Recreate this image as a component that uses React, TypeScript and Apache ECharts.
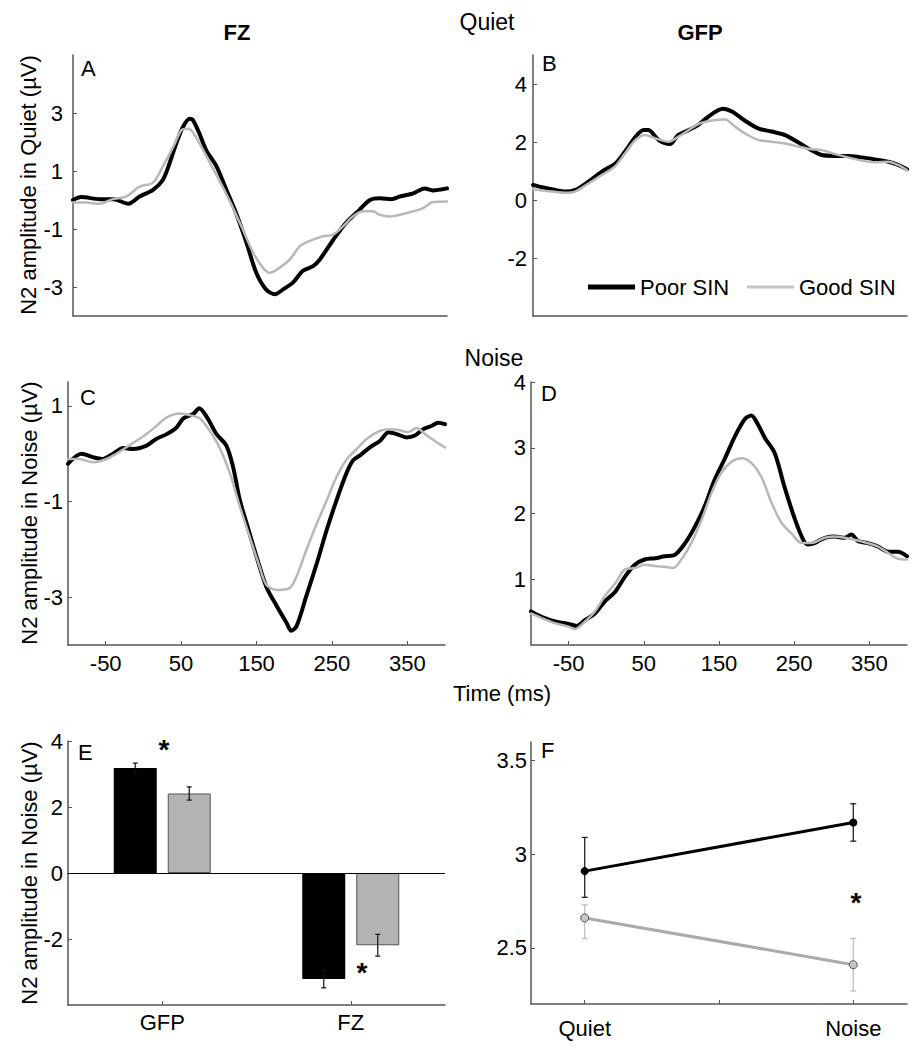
import React, { useEffect, useRef } from 'react';
import * as echarts from 'echarts';

// ---------- DATA ----------
// Panel A: FZ, Quiet (time ms, amplitude µV)
const aPoorT = [-100, -89, -64, -46, -26, -11, 7, 20, 29, 38, 47, 56, 60, 69, 78, 92, 105, 118, 132, 145, 158, 170, 181, 194, 207, 221, 230, 248, 265, 283, 297, 310, 326, 337, 355, 370, 381, 400];
const aPoorV = [0.0, 0.1, 0.03, 0.03, -0.13, 0.12, 0.35, 0.69, 1.26, 1.95, 2.52, 2.8, 2.77, 2.29, 1.72, 1.15, 0.35, -0.45, -1.48, -2.51, -3.08, -3.25, -3.08, -2.85, -2.45, -2.28, -2.05, -1.37, -0.79, -0.34, 0.0, 0.06, 0.03, 0.12, 0.23, 0.4, 0.33, 0.4];
const aGoodT = [-100, -82, -64, -47, -29, -11, 7, 20, 34, 45, 54, 60, 74, 87, 101, 114, 127, 141, 154, 163, 176, 190, 203, 216, 234, 248, 261, 274, 288, 301, 310, 323, 337, 355, 368, 381, 400];
const aGoodV = [-0.09, -0.09, -0.13, 0.03, 0.12, 0.46, 0.6, 1.15, 1.83, 2.41, 2.46, 2.35, 1.72, 1.09, 0.41, -0.28, -1.02, -1.82, -2.34, -2.51, -2.34, -2.05, -1.6, -1.42, -1.25, -1.19, -0.91, -0.57, -0.39, -0.39, -0.51, -0.57, -0.51, -0.39, -0.28, -0.07, -0.05];

// Panel B: GFP, Quiet
const bPoorT = [-100, -88, -75, -57, -44, -26, -8, 10, 23, 37, 48, 54, 68, 83, 94, 108, 121, 134, 148, 154, 166, 183, 201, 219, 237, 255, 272, 286, 303, 321, 339, 357, 375, 388, 400];
const bPoorV = [0.52, 0.44, 0.37, 0.29, 0.34, 0.63, 0.98, 1.26, 1.67, 2.18, 2.41, 2.41, 2.07, 1.93, 2.24, 2.41, 2.59, 2.87, 3.1, 3.15, 3.05, 2.74, 2.47, 2.36, 2.24, 1.98, 1.72, 1.55, 1.52, 1.52, 1.47, 1.4, 1.32, 1.21, 1.06];
const bGoodT = [-100, -75, -57, -44, -26, -8, 10, 23, 37, 50, 63, 81, 94, 108, 121, 139, 157, 170, 183, 201, 219, 237, 255, 272, 286, 303, 321, 339, 357, 375, 388, 400];
const bGoodV = [0.37, 0.29, 0.25, 0.29, 0.57, 0.86, 1.17, 1.61, 2.07, 2.24, 2.13, 2.01, 2.18, 2.41, 2.62, 2.74, 2.78, 2.53, 2.3, 2.07, 2.01, 1.95, 1.84, 1.75, 1.72, 1.59, 1.47, 1.36, 1.3, 1.32, 1.21, 1.03];

// Panel C: FZ, Noise
const cPoorT = [-100, -82, -67, -54, -40, -27, -14, 4, 17, 31, 44, 53, 66, 74, 84, 97, 110, 119, 128, 137, 150, 163, 177, 190, 196, 203, 216, 230, 243, 256, 269, 278, 287, 300, 314, 325, 336, 349, 360, 371, 382, 391, 400];
const cPoorV = [-0.21, 0.0, -0.07, -0.11, 0.0, 0.12, 0.1, 0.17, 0.31, 0.41, 0.55, 0.74, 0.83, 0.95, 0.77, 0.41, 0.17, -0.28, -0.98, -1.46, -2.15, -2.78, -3.19, -3.54, -3.7, -3.61, -2.98, -2.29, -1.6, -0.98, -0.42, -0.14, -0.04, 0.13, 0.27, 0.45, 0.41, 0.34, 0.38, 0.51, 0.58, 0.65, 0.62];
const cGoodT = [-100, -85, -67, -49, -36, -23, -9, 4, 17, 31, 48, 66, 75, 88, 101, 115, 128, 141, 154, 163, 177, 194, 203, 216, 230, 243, 256, 270, 283, 296, 314, 327, 340, 351, 362, 376, 389, 400];
const cGoodV = [-0.11, -0.11, -0.18, -0.11, 0.0, 0.13, 0.27, 0.41, 0.58, 0.76, 0.84, 0.79, 0.74, 0.48, 0.13, -0.42, -1.11, -1.74, -2.36, -2.74, -2.85, -2.81, -2.57, -2.02, -1.46, -0.98, -0.49, -0.11, 0.1, 0.31, 0.48, 0.51, 0.49, 0.45, 0.54, 0.38, 0.24, 0.13];

// Panel D: GFP, Noise
const dPoorT = [-100, -86, -68, -50, -39, -28, -15, -2, 12, 25, 38, 51, 65, 78, 91, 105, 118, 131, 144, 158, 171, 184, 193, 202, 211, 224, 237, 251, 262, 268, 277, 291, 304, 317, 326, 335, 348, 361, 375, 388, 400];
const dPoorV = [0.51, 0.43, 0.36, 0.32, 0.29, 0.38, 0.48, 0.66, 0.81, 1.04, 1.22, 1.3, 1.32, 1.35, 1.37, 1.55, 1.8, 2.11, 2.51, 2.84, 3.17, 3.43, 3.49, 3.35, 3.15, 2.92, 2.41, 1.91, 1.6, 1.53, 1.55, 1.63, 1.65, 1.63, 1.68, 1.58, 1.55, 1.5, 1.42, 1.42, 1.35];
const dGoodT = [-100, -86, -68, -50, -42, -28, -15, -2, 12, 25, 38, 51, 65, 78, 89, 100, 113, 127, 140, 153, 167, 180, 193, 207, 220, 233, 246, 260, 273, 291, 304, 317, 330, 348, 361, 375, 388, 400];
const dGoodV = [0.48, 0.41, 0.33, 0.28, 0.24, 0.36, 0.51, 0.74, 0.94, 1.15, 1.17, 1.22, 1.2, 1.19, 1.17, 1.3, 1.55, 1.91, 2.31, 2.62, 2.79, 2.84, 2.77, 2.54, 2.16, 1.86, 1.7, 1.55, 1.55, 1.63, 1.65, 1.63, 1.6, 1.55, 1.5, 1.4, 1.31, 1.3];

// Panel E: N2 amplitude in noise, bars
const eCategories = ['GFP', 'FZ'];
const ePoor = [3.18, -3.21];
const ePoorErr = [0.15, 0.27];
const eGood = [2.41, -2.19];
const eGoodErr = [0.2, 0.33];

// Panel F: GFP N2 amplitude, Quiet vs Noise
const fConditions = ['Quiet', 'Noise'];
const fPoor = [2.91, 3.17];
const fPoorHi = [3.09, 3.27];
const fPoorLo = [2.77, 3.07];
const fGood = [2.66, 2.41];
const fGoodHi = [2.73, 2.55];
const fGoodLo = [2.55, 2.27];

// Tick labels
const timeTicks = [-50, 50, 150, 250, 350];
const aTicks = [-3, -1, 1, 3];
const bTicks = [-2, 0, 2, 4];
const cTicks = [-3, -1, 1];
const dTicks = [1, 2, 3, 4];
const eTicks = [-2, 0, 2, 4];
const fTicks = [2.5, 3, 3.5];
const fXTicks = [1, 1.5, 2];

// ---------- STYLE ----------
const FONT = '"Liberation Sans", Arial, Helvetica, sans-serif';
const AXIS_COLOR = '#555';
const POOR_COLOR = '#000000';
const GOOD_COLOR = '#b8b8b8';
const LABEL_SIZE = 22;

const zip = (t: number[], v: number[]) => t.map((x, i) => [x, v[i]]);

const grids = [
  { left: 73, top: 55, width: 374, height: 261 }, // A
  { left: 533, top: 55, width: 374, height: 261 }, // B
  { left: 68, top: 382, width: 377, height: 263 }, // C
  { left: 531, top: 382, width: 376, height: 263 }, // D
  { left: 68, top: 741, width: 377, height: 264 }, // E
  { left: 531, top: 742, width: 376, height: 262 }, // F
];

function yAxis(gridIndex: number, min: number, max: number, ticks: number[], margin: number) {
  return {
    type: 'value',
    gridIndex,
    min,
    max,
    splitLine: { show: false },
    axisLine: { show: true, onZero: false, lineStyle: { color: AXIS_COLOR, width: 1.5 } },
    axisTick: { show: true, inside: true, length: 4, customValues: ticks, lineStyle: { color: AXIS_COLOR } },
    axisLabel: { show: true, customValues: ticks, margin, color: '#000', fontSize: LABEL_SIZE, fontFamily: FONT },
  };
}

function timeAxis(gridIndex: number, showLabels: boolean) {
  return {
    type: 'value',
    gridIndex,
    min: -100,
    max: 400,
    splitLine: { show: false },
    axisLine: { show: true, onZero: false, lineStyle: { color: AXIS_COLOR, width: 1.5 } },
    axisTick: { show: showLabels, inside: true, length: 4, customValues: timeTicks, lineStyle: { color: AXIS_COLOR } },
    axisLabel: { show: showLabels, customValues: timeTicks, margin: 7, color: '#000', fontSize: LABEL_SIZE, fontFamily: FONT },
  };
}

function curve(name: string, t: number[], v: number[], idx: number, poor: boolean) {
  const color = poor ? POOR_COLOR : GOOD_COLOR;
  return {
    type: 'line',
    name,
    xAxisIndex: idx,
    yAxisIndex: idx,
    data: zip(t, v),
    showSymbol: false,
    symbol: 'none',
    smooth: 0.3,
    z: poor ? 2 : 3,
    itemStyle: { color },
    lineStyle: { color, width: poor ? 4 : 2.5, cap: 'round', join: 'round' },
  };
}

function errorBars(offset: number, color: string, cap: number, width: number) {
  return (params: any, api: any) => {
    const xv = api.value(0);
    const lo = api.coord([xv, api.value(1)]);
    const hi = api.coord([xv, api.value(2)]);
    const cx = lo[0] + offset;
    const style = { stroke: color, lineWidth: width };
    return {
      type: 'group',
      children: [
        { type: 'line', shape: { x1: cx, y1: hi[1], x2: cx, y2: lo[1] }, style },
        { type: 'line', shape: { x1: cx - cap, y1: hi[1], x2: cx + cap, y2: hi[1] }, style },
        { type: 'line', shape: { x1: cx - cap, y1: lo[1], x2: cx + cap, y2: lo[1] }, style },
      ],
    };
  };
}

const BAR_W = 43;
const BAR_GAP_PX = 11;
const barOffset = (BAR_W + BAR_GAP_PX) / 2;

function txt(text: string, x: number, y: number, size: number, opts: any = {}) {
  return {
    type: 'text',
    x,
    y,
    rotation: opts.rotation || 0,
    z: 100,
    style: {
      text,
      fill: '#000',
      font: `${opts.bold ? 'bold ' : ''}${size}px ${FONT}`,
      textAlign: opts.align || 'center',
      textVerticalAlign: 'middle',
      align: opts.align || 'center',
      verticalAlign: 'middle',
    },
  };
}

const legendText = { fontSize: LABEL_SIZE, fontFamily: FONT, color: '#000', lineHeight: 24 };

const option: any = {
  animation: false,
  backgroundColor: '#ffffff',
  textStyle: { fontFamily: FONT },
  grid: grids.map((g) => ({ ...g, containLabel: false, outerBoundsMode: 'none' })),
  legend: [
    {
      data: [{ name: 'Poor SIN', icon: 'rect', itemStyle: { color: POOR_COLOR } }],
      left: 588,
      top: 275,
      padding: 0,
      itemWidth: 47,
      itemHeight: 5,
      selectedMode: false,
      textStyle: legendText,
    },
    {
      data: [{ name: 'Good SIN', icon: 'rect', itemStyle: { color: '#c4c4c4' } }],
      left: 747,
      top: 275,
      padding: 0,
      itemWidth: 47,
      itemHeight: 3,
      selectedMode: false,
      textStyle: legendText,
    },
  ],
  xAxis: [
    timeAxis(0, false),
    timeAxis(1, false),
    timeAxis(2, true),
    timeAxis(3, true),
    {
      type: 'category',
      gridIndex: 4,
      data: eCategories,
      axisLine: { show: true, onZero: false, lineStyle: { color: AXIS_COLOR, width: 1.5 } },
      axisTick: { show: true, inside: true, length: 4, alignWithLabel: true, lineStyle: { color: AXIS_COLOR } },
      axisLabel: { margin: 6, color: '#000', fontSize: LABEL_SIZE, fontFamily: FONT },
      splitLine: { show: false },
    },
    {
      type: 'value',
      gridIndex: 5,
      min: 0.8,
      max: 2.2,
      splitLine: { show: false },
      axisLine: { show: true, onZero: false, lineStyle: { color: AXIS_COLOR, width: 1.5 } },
      axisTick: { show: true, inside: true, length: 4, customValues: fXTicks, lineStyle: { color: AXIS_COLOR } },
      axisLabel: {
        customValues: fXTicks,
        margin: 13,
        color: '#000',
        fontSize: LABEL_SIZE,
        fontFamily: FONT,
        formatter: (v: number) => (v === 1 ? fConditions[0] : v === 2 ? fConditions[1] : ''),
      },
    },
  ],
  yAxis: [
    yAxis(0, -4, 5, aTicks, 10),
    yAxis(1, -4, 5, bTicks, 6),
    yAxis(2, -4, 1.5, cTicks, 5),
    yAxis(3, 0, 4, dTicks, 5),
    yAxis(4, -4, 4, eTicks, 5),
    yAxis(5, 2.2, 3.6, fTicks, 4),
  ],
  series: [
    curve('Poor SIN', aPoorT, aPoorV, 0, true),
    curve('Good SIN', aGoodT, aGoodV, 0, false),
    curve('Poor SIN', bPoorT, bPoorV, 1, true),
    curve('Good SIN', bGoodT, bGoodV, 1, false),
    curve('Poor SIN', cPoorT, cPoorV, 2, true),
    curve('Good SIN', cGoodT, cGoodV, 2, false),
    curve('Poor SIN', dPoorT, dPoorV, 3, true),
    curve('Good SIN', dGoodT, dGoodV, 3, false),
    // Panel E bars
    {
      type: 'bar',
      name: 'Poor SIN bars',
      xAxisIndex: 4,
      yAxisIndex: 4,
      data: ePoor,
      barWidth: BAR_W,
      barGap: `${(BAR_GAP_PX / BAR_W) * 100}%`,
      itemStyle: { color: '#000' },
      z: 2,
      markLine: {
        silent: true,
        symbol: 'none',
        label: { show: false },
        lineStyle: { color: '#000', width: 1, type: 'solid' },
        data: [{ yAxis: 0 }],
      },
    },
    {
      type: 'bar',
      name: 'Good SIN bars',
      xAxisIndex: 4,
      yAxisIndex: 4,
      data: eGood,
      barWidth: BAR_W,
      itemStyle: { color: '#b3b3b3', borderColor: '#555', borderWidth: 1 },
      z: 2,
    },
    {
      type: 'custom',
      xAxisIndex: 4,
      yAxisIndex: 4,
      z: 5,
      renderItem: errorBars(-barOffset, '#111', 2.5, 1.2),
      data: eCategories.map((c, i) => [c, ePoor[i] - ePoorErr[i], ePoor[i] + ePoorErr[i]]),
    },
    {
      type: 'custom',
      xAxisIndex: 4,
      yAxisIndex: 4,
      z: 5,
      renderItem: errorBars(barOffset, '#111', 2.5, 1.2),
      data: eCategories.map((c, i) => [c, eGood[i] - eGoodErr[i], eGood[i] + eGoodErr[i]]),
    },
    // Panel F
    {
      type: 'custom',
      xAxisIndex: 5,
      yAxisIndex: 5,
      z: 1,
      renderItem: errorBars(0, '#222', 3, 1.3),
      data: fConditions.map((c, i) => [i + 1, fPoorLo[i], fPoorHi[i]]),
    },
    {
      type: 'custom',
      xAxisIndex: 5,
      yAxisIndex: 5,
      z: 1,
      renderItem: errorBars(0, '#c0c0c0', 3, 1.3),
      data: fConditions.map((c, i) => [i + 1, fGoodLo[i], fGoodHi[i]]),
    },
    {
      type: 'line',
      name: 'Poor SIN F',
      xAxisIndex: 5,
      yAxisIndex: 5,
      z: 3,
      data: fConditions.map((c, i) => [i + 1, fPoor[i]]),
      symbol: 'circle',
      symbolSize: 8,
      itemStyle: { color: '#000' },
      lineStyle: { color: '#000', width: 3 },
    },
    {
      type: 'line',
      name: 'Good SIN F',
      xAxisIndex: 5,
      yAxisIndex: 5,
      z: 3,
      data: fConditions.map((c, i) => [i + 1, fGood[i]]),
      symbol: 'circle',
      symbolSize: 8,
      itemStyle: { color: '#c8c8c8', borderColor: '#555', borderWidth: 1 },
      lineStyle: { color: '#aaaaaa', width: 3 },
    },
  ],
  graphic: [
    txt('FZ', 237, 32, 22, { bold: true }),
    txt('GFP', 700, 32, 22, { bold: true }),
    txt('Quiet', 487, 22, 23),
    txt('Noise', 494, 358, 23),
    txt('Time (ms)', 502, 693, 22),
    txt('N2 amplitude in Quiet (µV)', 28, 185, 22, { rotation: Math.PI / 2 }),
    txt('N2 amplitude in Noise (µV)', 29, 513, 22, { rotation: Math.PI / 2 }),
    txt('N2 amplitude in Noise (µV)', 29, 873, 22, { rotation: Math.PI / 2 }),
    txt('A', 81, 68, 22, { align: 'left' }),
    txt('B', 542, 63, 22, { align: 'left' }),
    txt('C', 80, 397, 22, { align: 'left' }),
    txt('D', 541, 393, 22, { align: 'left' }),
    txt('E', 78, 752, 22, { align: 'left' }),
    txt('F', 541, 750, 22, { align: 'left' }),
    txt('*', 164, 749, 28, { bold: true }),
    txt('*', 362, 972, 28, { bold: true }),
    txt('*', 856, 902, 28, { bold: true }),
  ],
};

export default function App() {
  const ref = useRef<HTMLDivElement>(null);
  useEffect(() => {
    if (!ref.current) return;
    const chart = echarts.init(ref.current, null, { renderer: 'svg' });
    chart.setOption(option);
    return () => chart.dispose();
  }, []);
  return (
    <div
      ref={ref}
      style={{ position: 'absolute', left: 0, top: 0, width: 915, height: 1050, background: '#fff' }}
    />
  );
}
